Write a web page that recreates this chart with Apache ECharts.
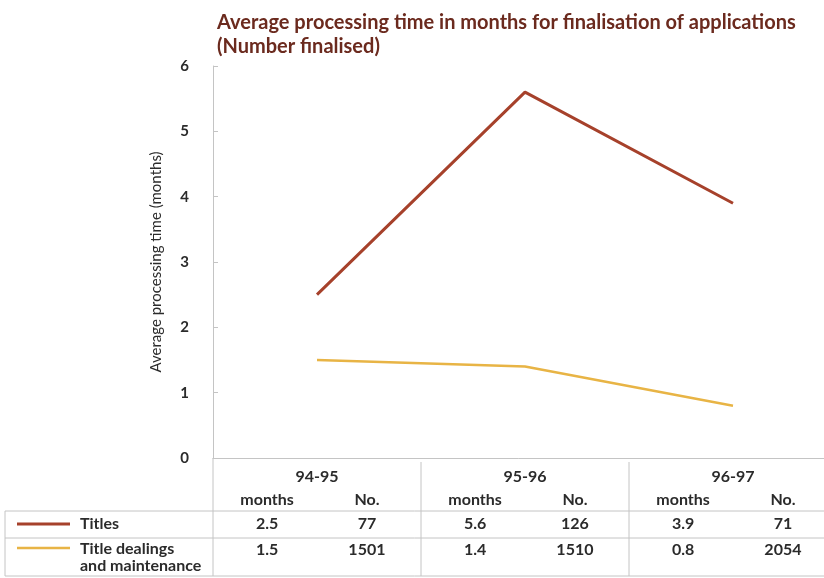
<!DOCTYPE html>
<html>
<head>
<meta charset="utf-8">
<script src="https://cdn.jsdelivr.net/npm/echarts@6/dist/echarts.min.js"></script>
<style>html,body{margin:0;padding:0;background:#fff;}#c{width:824px;height:578px;}</style>
</head>
<body>
<div id="c"></div>
<script>
var years = ['94-95', '95-96', '96-97'];
var seriesNames = ['Titles', 'Title dealings\nand maintenance'];
var titlesMonths = [2.5, 5.6, 3.9];
var titlesNo = [77, 126, 71];
var dealingsMonths = [1.5, 1.4, 0.8];
var dealingsNo = [1501, 1510, 2054];
var yTicks = [0, 1, 2, 3, 4, 5, 6];

var FONT = 'Lato';
var C_TITLES = '#a6412b';
var C_DEAL = '#e8b445';
var C_GRID = '#c4c4c4';
var C_TEXT = '#2b2b2b';

var chart = echarts.init(document.getElementById('c'));
chart.setOption({
  animation: false,
  backgroundColor: '#fff',
  title: {
    text: 'Average processing time in months for finalisation of applications\n(Number finalised)',
    left: 212, top: 6,
    textStyle: { fontFamily: FONT, fontWeight: 'bold', fontSize: 20, color: '#6b2a1e', lineHeight: 24 }
  },
  grid: { left: 213, top: 66, height: 392, width: 624, outerBoundsMode: 'none', containLabel: false },
  xAxis: {
    type: 'category', data: years, boundaryGap: true,
    axisLine: { lineStyle: { color: C_GRID, width: 1 } },
    axisTick: { inside: true, alignWithLabel: true, length: 7, lineStyle: { color: C_GRID } },
    axisLabel: { show: false },
    splitLine: { show: false }
  },
  yAxis: {
    type: 'value', min: yTicks[0], max: yTicks[yTicks.length - 1], interval: 1,
    name: 'Average processing time (months)', nameLocation: 'middle', nameGap: 49,
    nameTextStyle: { fontFamily: FONT, fontSize: 15, color: C_TEXT },
    axisLine: { show: true, lineStyle: { color: C_GRID, width: 1 } },
    axisTick: { show: true, inside: true, length: 5, lineStyle: { color: C_GRID } },
    axisLabel: { fontFamily: FONT, fontWeight: 'bold', fontSize: 15, color: C_TEXT, margin: 24 },
    splitLine: { show: false }
  },
  series: [
    { name: seriesNames[0], type: 'line', data: titlesMonths, symbol: 'none',
      lineStyle: { color: C_TITLES, width: 3 }, itemStyle: { color: C_TITLES } },
    { name: seriesNames[1], type: 'line', data: dealingsMonths, symbol: 'none',
      lineStyle: { color: C_DEAL, width: 2.5 }, itemStyle: { color: C_DEAL } }
  ]
});

// Build table under the chart from the data arrays
var centers = years.map(function (y) { return chart.convertToPixel({ xAxisIndex: 0 }, y); });
var band = centers[1] - centers[0];
var bounds = [centers[0] - band / 2];
for (var i = 0; i < centers.length; i++) bounds.push(centers[i] + band / 2);
var axisX = bounds[0];
var yBase = chart.convertToPixel({ yAxisIndex: 0 }, 0);
var rowTop = yBase + 53, row2 = rowTop + 27, rowBottom = row2 + 38;
var leftEdge = 5, rightEdge = 824;
var els = [];
function line(x1, y1, x2, y2) {
  els.push({ type: 'line', shape: { x1: x1, y1: y1, x2: x2, y2: y2 }, style: { stroke: C_GRID, lineWidth: 1 }, silent: true });
}
function txt(t, x, y, align, size) {
  els.push({ type: 'text', x: x, y: y, style: { text: t, fill: C_TEXT, font: 'bold ' + (size || 16) + 'px ' + FONT, textAlign: align || 'center', textVerticalAlign: 'middle', lineHeight: 17 }, silent: true });
}
// horizontal lines
line(leftEdge, rowTop, rightEdge, rowTop);
line(leftEdge, row2, rightEdge, row2);
line(leftEdge, rowBottom, rightEdge, rowBottom);
// vertical lines
line(leftEdge, rowTop, leftEdge, rowBottom);
line(axisX, yBase, axisX, rowBottom);
for (var j = 1; j < bounds.length - 1; j++) line(bounds[j], yBase + 4, bounds[j], rowBottom);
// headers & values
for (var k = 0; k < years.length; k++) {
  var x0 = bounds[k];
  var mx = x0 + band * 0.26, nx = x0 + band * 0.74;
  txt(years[k], centers[k], yBase + 19);
  txt('months', mx, yBase + 42);
  txt('No.', nx, yBase + 42);
  txt(String(titlesMonths[k]), mx, rowTop + 13);
  txt(String(titlesNo[k]), nx, rowTop + 13);
  txt(String(dealingsMonths[k]), mx, row2 + 12);
  txt(String(dealingsNo[k]), nx, row2 + 12);
}
// legend cells
els.push({ type: 'line', shape: { x1: 17, y1: rowTop + 13, x2: 70, y2: rowTop + 13 }, style: { stroke: C_TITLES, lineWidth: 3 }, silent: true });
els.push({ type: 'line', shape: { x1: 17, y1: row2 + 10, x2: 70, y2: row2 + 10 }, style: { stroke: C_DEAL, lineWidth: 2.5 }, silent: true });
txt(seriesNames[0], 80, rowTop + 13, 'left', 16);
txt(seriesNames[1], 80, row2 + 19, 'left', 16);
chart.setOption({ graphic: { elements: els } });
</script>
</body>
</html>
